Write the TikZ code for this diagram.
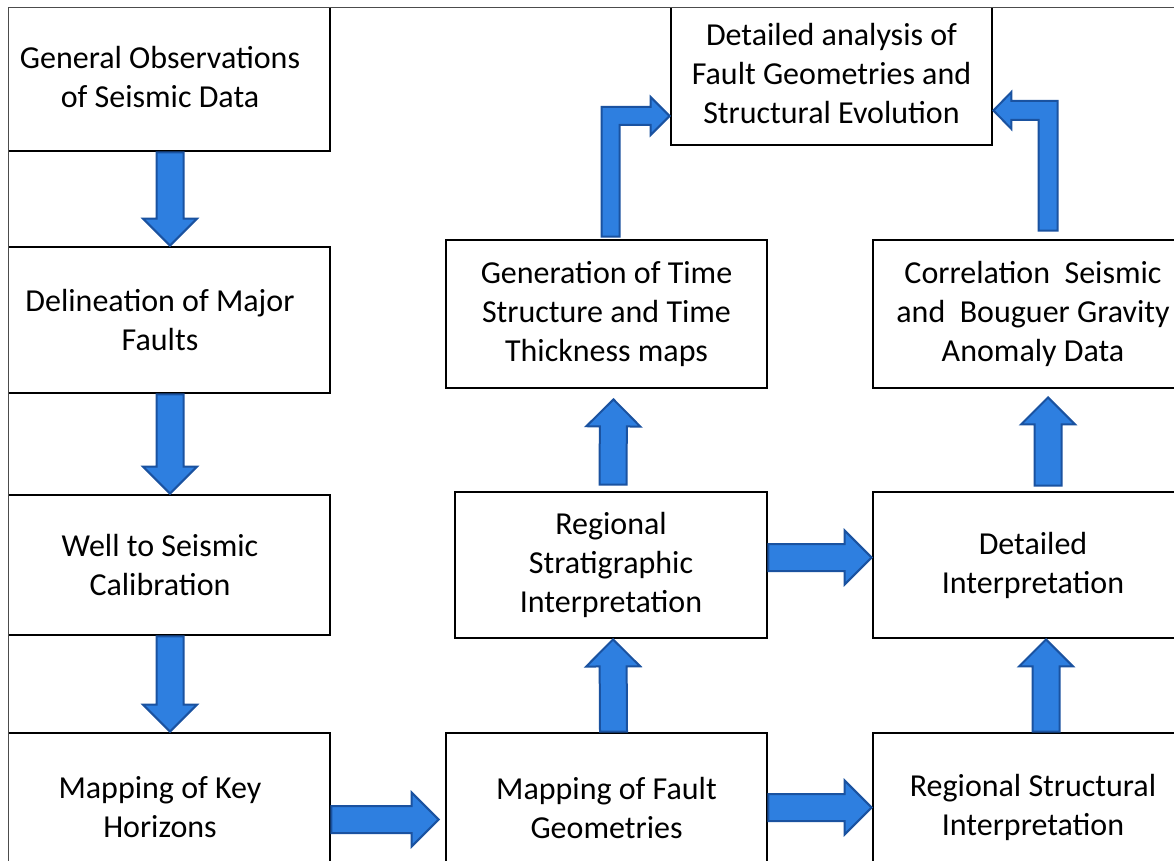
\documentclass[tikz,border=0pt]{standalone}
\usepackage{fontspec}
\setmainfont{Carlito}
\usetikzlibrary{calc}
\definecolor{arrowfill}{RGB}{46,127,224}
\definecolor{arrowline}{RGB}{26,82,160}
\begin{document}
\begin{tikzpicture}[x=1pt, y=-1pt, box/.style={draw, line width=2.8pt, align=center, inner sep=0pt, font=\fontsize{32}{39}\selectfont}, bluearrow/.style={fill=arrowfill, draw=arrowline, line width=2pt, line join=miter}, blockarrow/.style={to path={let \p1=(\tikztostart), \p2=(\tikztotarget), \p3=($(\p2)!27pt!(\p1)$) in ($(\p1)!13.5pt!90:(\p2)$) -- ($(\p3)!13.5pt!90:(\p2)$) -- ($(\p3)!27pt!90:(\p2)$) -- (\p2) -- ($(\p3)!27pt!-90:(\p2)$) -- ($(\p3)!13.5pt!-90:(\p2)$) -- ($(\p1)!13.5pt!-90:(\p2)$) -- cycle}}]%arrowfill
\useasboundingbox (0,0) rectangle (1174,861);
\begin{scope}
\clip (8,8) rectangle (1174,861);
\node[box, minimum width=340pt, minimum height=147pt] (obs) at (160,77.5) {General Observations\\of Seismic Data};
\node[box, minimum width=340pt, minimum height=146pt] (faults) at (160,320) {Delineation of Major\\Faults};
\node[box, minimum width=340pt, minimum height=140pt] (calib) at (160,565) {Well to Seismic\\Calibration};
\node[box, minimum width=340pt, minimum height=149pt] (horizons) at (160,807.5) {Mapping of Key\\Horizons};
\node[box, minimum width=321pt, minimum height=149pt] (faultgeo) at (606.5,807.5) {Mapping of Fault\\Geometries};
\node[box, minimum width=320pt, minimum height=149pt] (regstruct) at (1033,807.5) {Regional Structural\\Interpretation};
\node[box, minimum width=312pt, minimum height=146pt] (regstrat) at (611,565) {Regional\\Stratigraphic\\Interpretation};
\node[box, minimum width=320pt, minimum height=146pt] (detinterp) at (1033,565) {Detailed\\Interpretation};
\node[box, minimum width=321pt, minimum height=148pt] (timemaps) at (606.5,314) {Generation of Time\\Structure and Time\\Thickness maps};
\node[box, minimum width=320pt, minimum height=148pt] (gravity) at (1033,314) {Correlation \ Seismic\\and \ Bouguer Gravity\\Anomaly Data};
\node[box, minimum width=321pt, minimum height=142pt] (analysis) at (831.5,74) {Detailed analysis of\\Fault Geometries and\\Structural Evolution};
\end{scope}
\draw[bluearrow] ([xshift=10pt]obs.south) to[blockarrow] ([xshift=10pt]faults.north);
\draw[bluearrow] ([xshift=10pt]faults.south) to[blockarrow] ([xshift=10pt]calib.north);
\draw[bluearrow] ([xshift=10pt]calib.south) to[blockarrow] ([xshift=10pt]horizons.north);
\draw[bluearrow] ([yshift=-12pt]horizons.east) to[blockarrow] ([yshift=-12pt, xshift=-6pt]faultgeo.west);
\draw[bluearrow] (faultgeo.east) to[blockarrow] (regstruct.west);
\draw[bluearrow] ([xshift=7pt]faultgeo.north) to[blockarrow] ([xshift=2pt]regstrat.south);
\draw[bluearrow] ([xshift=13pt]regstruct.north) to[blockarrow] ([xshift=13pt]detinterp.south);
\draw[bluearrow] ([yshift=7.5pt]regstrat.east) to[blockarrow] ([yshift=7.5pt]detinterp.west);
\draw[bluearrow] ([xshift=2pt, yshift=6pt]regstrat.north) to[blockarrow] ([xshift=7pt, yshift=-10pt]timemaps.south);
\draw[bluearrow] ([xshift=15pt, yshift=5pt]detinterp.north) to[blockarrow] ([xshift=15pt, yshift=-8pt]gravity.south);
\draw[bluearrow] let \p1=([xshift=4pt, yshift=2pt]timemaps.north), \p2=([yshift=-42pt]analysis.west) in ({\x1-9},\y1) -- ({\x1-9},{\y2+9}) -- ({\x2-19},{\y2+9}) -- ({\x2-19},{\y2+19}) -- (\p2) -- ({\x2-19},{\y2-19}) -- ({\x2-19},{\y2-9}) -- ({\x1+9},{\y2-9}) -- ({\x1+9},\y1) -- cycle;
\draw[bluearrow] let \p1=([xshift=15pt, yshift=8pt]gravity.north), \p2=([yshift=-36.5pt]analysis.east) in ({\x1+9.5},\y1) -- ({\x1+9.5},{\y2+9.5}) -- ({\x2+18},{\y2+9.5}) -- ({\x2+18},{\y2+18.5}) -- (\p2) -- ({\x2+18},{\y2-18.5}) -- ({\x2+18},{\y2-9.5}) -- ({\x1-9.5},{\y2-9.5}) -- ({\x1-9.5},\y1) -- cycle;
\draw[gray!60!black, line width=1pt] (8,861) -- (8,8) -- (1174,8);
\end{tikzpicture}
\end{document}
